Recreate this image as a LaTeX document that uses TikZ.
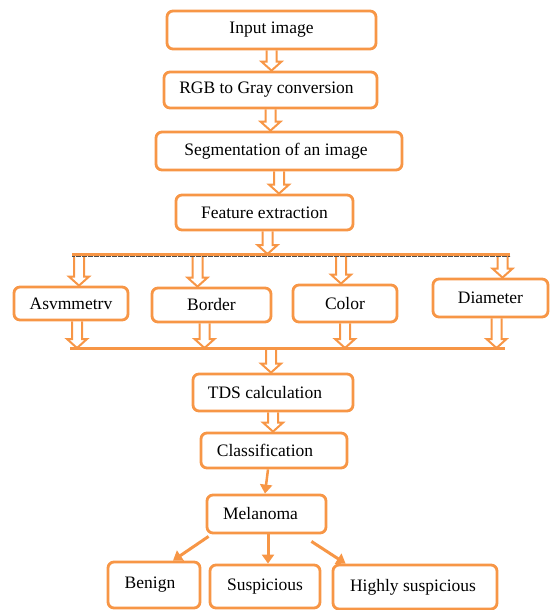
\documentclass[tikz,border=0pt]{standalone}
\usepackage{fontspec}
\setmainfont{Liberation Serif}
\usetikzlibrary{calc,arrows.meta}
\definecolor{orng}{RGB}{247,150,70}
\tikzset{
  box/.style={draw=orng, line width=2.8pt, rounded corners=6pt, fill=white, inner sep=0pt, font=\fontsize{17.5}{20}\selectfont, text=black},
  blockarr/.style={draw=orng, line width=2pt, line join=miter},
  bus/.style={draw=orng, line width=3pt},
  sarr/.style={draw=orng, line width=3pt, -{Triangle[length=9pt,width=12pt]}},
}
\newcommand\varrow[2]{\draw[blockarr] let \p1=#1, \p2=#2 in ({\x1-5pt},\y1) -- ({\x1-5pt},{\y2+9pt}) -- ({\x1-10pt},{\y2+9pt}) -- (\x1,\y2) -- ({\x1+10pt},{\y2+9pt}) -- ({\x1+5pt},{\y2+9pt}) -- ({\x1+5pt},\y1);}
\begin{document}
\begin{tikzpicture}[x=1pt,y=-1pt]
\useasboundingbox (0,0) rectangle (550,610);
% boxes
\node[box, minimum width=209pt, minimum height=38pt] (input) at (271.5,30) {Input image};
\node[box, minimum width=213pt, minimum height=36pt] (rgb) at (270.5,90) {\hspace*{-8pt}RGB to Gray conversion};
\node[box, minimum width=246pt, minimum height=38pt] (seg) at (279,151) {\hspace*{-6pt}Segmentation of an image};
\node[box, minimum width=177pt, minimum height=35pt] (feat) at (264.5,212.5) {Feature extraction};
\node[box, minimum width=114pt, minimum height=33pt] (asym) at (71,303.5) {Asvmmetrv};
\node[box, minimum width=119pt, minimum height=34pt] (border) at (211.5,305) {Border};
\node[box, minimum width=104pt, minimum height=37pt] (color) at (345,303.5) {Color};
\node[box, minimum width=115pt, minimum height=38pt] (diam) at (490.5,298) {Diameter};
\node[box, minimum width=160pt, minimum height=37pt] (tds) at (273,392.5) {\hspace*{-16pt}TDS calculation};
\node[box, minimum width=146pt, minimum height=35pt] (class) at (274,450.5) {\hspace*{-18pt}Classification};
\node[box, minimum width=119pt, minimum height=38pt] (mel) at (266.5,514) {\hspace*{-12pt}Melanoma};
\node[box, minimum width=92pt, minimum height=46pt] (benign) at (154,585) {\hspace*{-8pt}Benign};
\node[box, minimum width=110pt, minimum height=43pt] (susp) at (265,586.5) {Suspicious};
\node[box, minimum width=164pt, minimum height=44pt] (high) at (415,587) {\hspace*{-4pt}Highly suspicious};
% bus coordinates
\coordinate (t1) at (72,254);
\coordinate (t2) at (510,254);
\coordinate (b1) at (70,348);
\coordinate (b2) at (505,348);
% block arrows in the chain
\varrow{(input.south)}{(rgb.north)}
\varrow{(rgb.south)}{($(seg.north)+(-8,0)$)}
\varrow{(seg.south)}{(feat.north)}
\varrow{($(feat.south)+(3,0)$)}{($(t1 -| feat.south)+(3,0)$)}
% branches down from top bus
\varrow{($(t1 -| asym.north)+(8,0)$)}{($(asym.north)+(8,0)$)}
\varrow{($(t1 -| border.north)+(-14,0)$)}{($(border.north)+(-14,0)$)}
\varrow{($(t1 -| color.north)+(-4,0)$)}{($(color.north)+(-4,0)$)}
\varrow{($(t1 -| diam.north)+(12,0)$)}{($(diam.north)+(12,0)$)}
% arrows down into the bottom bus
\varrow{($(asym.south)+(6,0)$)}{($(b1 -| asym.south)+(6,0)$)}
\varrow{($(border.south)+(-7,0)$)}{($(b1 -| border.south)+(-7,0)$)}
\varrow{(color.south)}{(b1 -| color.south)}
\varrow{($(diam.south)+(6,0)$)}{($(b1 -| diam.south)+(6,0)$)}
% buses
\draw[bus] (t1) -- (t2);
\draw[black!70, line width=0.5pt, dash pattern=on 0.6pt off 0.6pt] ($(t1)+(0,2.5)$) -- ($(t2)+(0,2.5)$);
\draw[bus] (b1) -- (b2);
% bus to TDS and TDS to classification
\varrow{($(b1 -| tds.north)+(-2,0)$)}{($(tds.north)+(-2,0)$)}
\varrow{(tds.south)}{(class.north)}
% single arrows
\draw[sarr, line width=2.5pt] ($(class.south)+(-6,0)$) -- ($(mel.north)+(-1.5,0)$);
\draw[sarr] ($(mel.south west)+(3,2)$) -- ($(benign.north)+(19,0)$);
\draw[sarr] ($(mel.south)+(1.5,0)$) -- ($(susp.north)+(3,0)$);
\draw[sarr] ($(mel.south east)+(-16,7)$) -- ($(high.north west)+(14,0)$);
\end{tikzpicture}
\end{document}
